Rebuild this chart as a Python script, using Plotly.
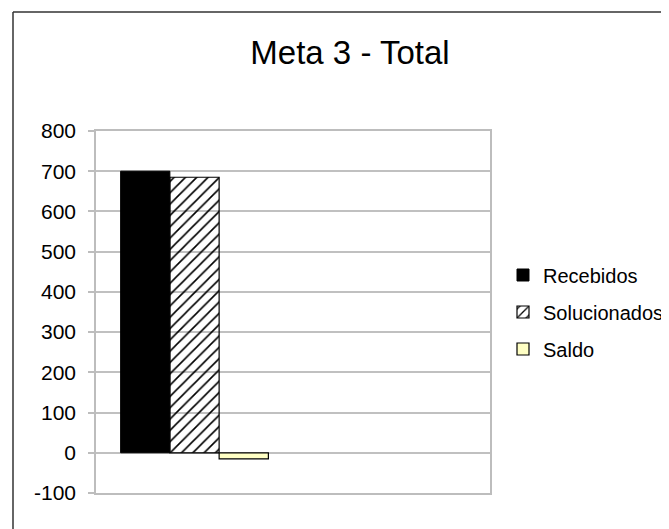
import plotly.graph_objects as go

categories = [0]
series_names = ["Recebidos", "Solucionados", "Saldo"]
recebidos = [700]
solucionados = [685]
saldo = [-15]
y_ticks = [-100, 0, 100, 200, 300, 400, 500, 600, 700, 800]
y_tick_labels = ["-100", "0", "100", "200", "300", "400", "500", "600", "700", "800"]

FONT = "Liberation Sans, Arial, sans-serif"

fig = go.Figure()
fig.add_trace(go.Bar(
    x=categories, y=recebidos, name=series_names[0], legendgroup="a",
    marker=dict(color="black", line=dict(color="black", width=1)),
))
fig.add_trace(go.Bar(
    x=categories, y=solucionados, name=series_names[1], legendgroup="b",
    marker=dict(color="black", line=dict(color="black", width=1.2),
                pattern=dict(shape="/", fillmode="replace", size=8, solidity=0.2)),
))
fig.add_trace(go.Bar(
    x=categories, y=saldo, name=series_names[2], legendgroup="c",
    marker=dict(color="#FFFFC4", line=dict(color="black", width=1.2)),
))

# page body has an 8px margin; work in page pixels and shift
OFF = 8
W, H = 669 - OFF, 529 - OFF
L, R, T, B = 96 - OFF, W + OFF - 490, 131 - OFF, H + OFF - 493
pw, ph = W - L - R, H - T - B

def px_x(p):
    return (p - OFF - L) / pw

def px_y(p):
    return (H - B - (p - OFF)) / ph

fig.update_layout(
    width=W, height=H,
    margin=dict(l=L, r=R, t=T, b=B, pad=0, autoexpand=False),
    paper_bgcolor="white", plot_bgcolor="white",
    barmode="group", bargap=0.25, bargroupgap=0,
    font=dict(family=FONT, color="black", size=20),
    title=dict(text="Meta 3 - Total", x=(350 - OFF) / W, xanchor="center",
               y=1 - (52 - OFF) / H, yanchor="middle",
               font=dict(family=FONT, size=33, color="black")),
    showlegend=True,
    legend=dict(x=px_x(503), xanchor="left", y=px_y(312), yanchor="middle",
                traceorder="grouped", tracegroupgap=8,
                font=dict(family=FONT, size=20, color="black"),
                bgcolor="rgba(0,0,0,0)", itemclick=False),
    xaxis=dict(range=[-0.5, 1.5], showticklabels=False, ticks="",
               showgrid=False, zeroline=False, showline=True,
               linecolor="#BDBDBD", linewidth=1.5, mirror=True, fixedrange=True),
    yaxis=dict(range=[-100, 800], tickvals=y_ticks, ticktext=y_tick_labels,
               ticks="outside", ticklen=6, tickcolor="#BDBDBD", tickwidth=1.5,
               showgrid=True, gridcolor="#C0C0C0", gridwidth=1.5,
               zeroline=False, showline=True, linecolor="#BDBDBD",
               linewidth=1.5, mirror=True, ticklabelstandoff=8,
               tickfont=dict(family=FONT, size=21, color="black"), fixedrange=True),
    shapes=[
        dict(type="line", xref="paper", yref="paper",
             x0=px_x(13), x1=px_x(13), y0=px_y(12), y1=px_y(560),
             line=dict(color="#333333", width=1.5)),
        dict(type="line", xref="paper", yref="paper",
             x0=px_x(13), x1=px_x(700), y0=px_y(12), y1=px_y(12),
             line=dict(color="#333333", width=1.5)),
    ],
)

fig.write_html("out.html")
